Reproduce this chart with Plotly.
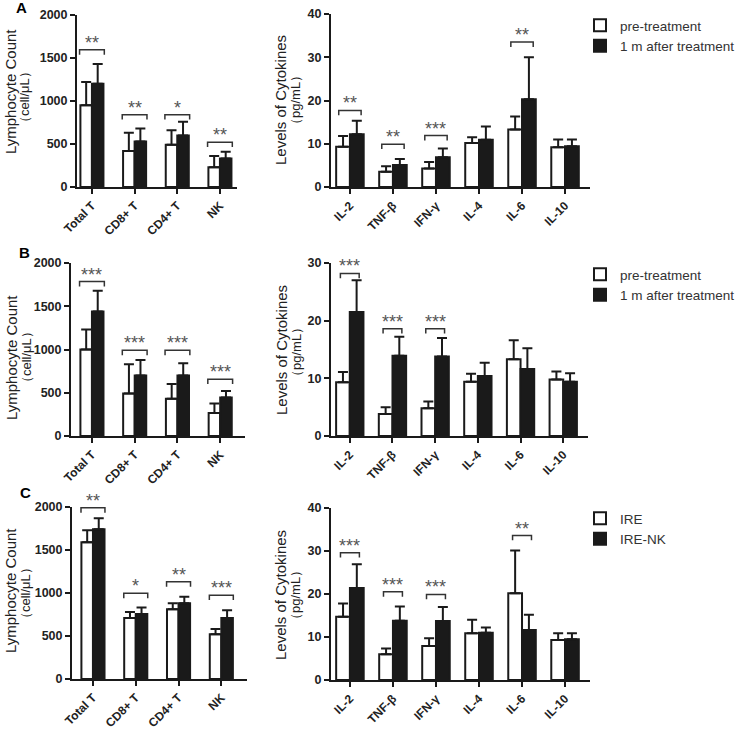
import plotly.graph_objects as go

W, H = 738, 729

# ---------------- data ----------------
lymph_cats = ["Total T", "CD8+ T", "CD4+ T", "NK"]
cyto_cats = ["IL-2", "TNF-β", "IFN-γ", "IL-4", "IL-6", "IL-10"]

# Row A
A_lymph_pre = [950, 420, 490, 230]
A_lymph_pre_sd = [270, 210, 170, 130]
A_lymph_post = [1200, 530, 600, 330]
A_lymph_post_sd = [230, 150, 160, 80]
A_lymph_sig = ["**", "**", "*", "**"]
A_lymph_brk = [1595, 840, 840, 520]

A_cyto_pre = [9.3, 3.5, 4.3, 10.2, 13.3, 9.2]
A_cyto_pre_sd = [2.5, 1.3, 1.5, 1.3, 3.0, 1.8]
A_cyto_post = [12.2, 5.1, 6.9, 10.9, 20.3, 9.4]
A_cyto_post_sd = [3.1, 1.4, 2.0, 3.1, 9.7, 1.6]
A_cyto_sig = ["**", "**", "***", "", "**", ""]
A_cyto_brk = [17.7, 9.9, 11.9, None, 33.5, None]

# Row B
B_lymph_pre = [1000, 490, 430, 265]
B_lymph_pre_sd = [230, 340, 170, 110]
B_lymph_post = [1440, 700, 700, 445]
B_lymph_post_sd = [240, 180, 140, 75]
B_lymph_sig = ["***", "***", "***", "***"]
B_lymph_brk = [1785, 990, 990, 656]

B_cyto_pre = [9.3, 3.8, 4.8, 9.4, 13.3, 9.8]
B_cyto_pre_sd = [1.8, 1.2, 1.2, 1.4, 3.3, 1.4]
B_cyto_post = [21.5, 13.9, 13.8, 10.4, 11.6, 9.4]
B_cyto_post_sd = [5.5, 3.3, 3.2, 2.3, 3.6, 1.5]
B_cyto_sig = ["***", "***", "***", "", "", ""]
B_cyto_brk = [28.2, 18.6, 18.6, None, None, None]

# Row C
C_lymph_pre = [1590, 710, 810, 520]
C_lymph_pre_sd = [140, 70, 70, 60]
C_lymph_post = [1740, 755, 880, 710]
C_lymph_post_sd = [130, 75, 75, 90]
C_lymph_sig = ["**", "*", "**", "***"]
C_lymph_brk = [1990, 996, 1130, 975]

C_cyto_pre = [14.7, 6.0, 7.9, 10.9, 20.2, 9.3]
C_cyto_pre_sd = [3.1, 1.3, 1.8, 3.1, 9.9, 1.6]
C_cyto_post = [21.4, 13.8, 13.7, 11.0, 11.6, 9.5]
C_cyto_post_sd = [5.5, 3.3, 3.3, 1.2, 3.6, 1.4]
C_cyto_sig = ["***", "***", "***", "", "**", ""]
C_cyto_brk = [29.6, 20.5, 19.9, None, 33.6, None]

group_names_AB = ["pre-treatment", "1 m after treatment"]
group_names_C = ["IRE", "IRE-NK"]

lymph_title = "Lymphocyte Count"
lymph_unit = "（cell/μL）"
cyto_title = "Levels of Cytokines"
cyto_unit = "（pg/mL）"

# ---------------- layout helpers ----------------
def fx(px):
    return px / W

def fy(py):
    return 1 - py / H

INK = "#1a1a1a"
FONT = "Liberation Sans, Arial, sans-serif"

panels = [
    dict(cats=lymph_cats, pre=A_lymph_pre, pre_sd=A_lymph_pre_sd, post=A_lymph_post,
         post_sd=A_lymph_post_sd, sig=A_lymph_sig, brk=A_lymph_brk, yr=[0, 2000], dt=500,
         xpx=(77, 237), ypx=(15, 187), xr=[-0.35, 3.40], names=group_names_AB, leg="legend",
         showleg=False, half=0.29, w=0.27, title=lymph_title, unit=lymph_unit,
         tpos=(10, 92), upos=(24, 97)),
    dict(cats=cyto_cats, pre=A_cyto_pre, pre_sd=A_cyto_pre_sd, post=A_cyto_post,
         post_sd=A_cyto_post_sd, sig=A_cyto_sig, brk=A_cyto_brk, yr=[0, 40], dt=10,
         xpx=(331, 590), ypx=(14, 187), xr=[-0.44, 5.58], names=group_names_AB, leg="legend",
         showleg=True, half=0.26, w=0.32, title=cyto_title, unit=cyto_unit,
         tpos=(280, 100), upos=(295, 100)),
    dict(cats=lymph_cats, pre=B_lymph_pre, pre_sd=B_lymph_pre_sd, post=B_lymph_post,
         post_sd=B_lymph_post_sd, sig=B_lymph_sig, brk=B_lymph_brk, yr=[0, 2000], dt=500,
         xpx=(71, 245), ypx=(263, 436), xr=[-0.49, 3.58], names=group_names_AB, leg="legend2",
         showleg=False, half=0.29, w=0.27, title=lymph_title, unit=lymph_unit,
         tpos=(11, 358), upos=(26, 357)),
    dict(cats=cyto_cats, pre=B_cyto_pre, pre_sd=B_cyto_pre_sd, post=B_cyto_post,
         post_sd=B_cyto_post_sd, sig=B_cyto_sig, brk=B_cyto_brk, yr=[0, 30], dt=10,
         xpx=(331, 588), ypx=(263, 436), xr=[-0.44, 5.58], names=group_names_AB, leg="legend2",
         showleg=True, half=0.22, w=0.32, title=cyto_title, unit=cyto_unit,
         tpos=(281, 350), upos=(296, 352)),
    dict(cats=lymph_cats, pre=C_lymph_pre, pre_sd=C_lymph_pre_sd, post=C_lymph_post,
         post_sd=C_lymph_post_sd, sig=C_lymph_sig, brk=C_lymph_brk, yr=[0, 2000], dt=500,
         xpx=(72, 247), ypx=(507, 679), xr=[-0.49, 3.60], names=group_names_C, leg="legend3",
         showleg=False, half=0.28, w=0.27, title=lymph_title, unit=lymph_unit,
         tpos=(10, 591), upos=(25, 593)),
    dict(cats=cyto_cats, pre=C_cyto_pre, pre_sd=C_cyto_pre_sd, post=C_cyto_post,
         post_sd=C_cyto_post_sd, sig=C_cyto_sig, brk=C_cyto_brk, yr=[0, 40], dt=10,
         xpx=(331, 590), ypx=(508, 680), xr=[-0.44, 5.58], names=group_names_C, leg="legend3",
         showleg=True, half=0.22, w=0.32, title=cyto_title, unit=cyto_unit,
         tpos=(280, 595), upos=(295, 595)),
]

fig = go.Figure()
shapes = []
annotations = []
layout = dict(
    template="none",
    width=W, height=H, margin=dict(l=0, r=0, t=0, b=0, pad=0, autoexpand=False),
    autosize=False,
    paper_bgcolor="white", plot_bgcolor="white",
    barmode="overlay", font=dict(family=FONT, color="#222"),
)

for i, p in enumerate(panels):
    n = i + 1
    xa = "x" if n == 1 else f"x{n}"
    ya = "y" if n == 1 else f"y{n}"
    xkey = "xaxis" if n == 1 else f"xaxis{n}"
    ykey = "yaxis" if n == 1 else f"yaxis{n}"
    w = p["w"]
    fig.add_trace(go.Bar(
        x=p["cats"], y=p["pre"], name=p["names"][0], xaxis=xa, yaxis=ya,
        offset=-w, width=w,
        marker=dict(color="white", line=dict(color=INK, width=2)),
        error_y=dict(type="data", array=p["pre_sd"], arrayminus=[0] * len(p["pre"]),
                     symmetric=False, color=INK, thickness=2, width=5),
        legend=p["leg"], showlegend=p["showleg"],
    ))
    fig.add_trace(go.Bar(
        x=p["cats"], y=p["post"], name=p["names"][1], xaxis=xa, yaxis=ya,
        offset=0, width=w,
        marker=dict(color=INK, line=dict(color=INK, width=2)),
        error_y=dict(type="data", array=p["post_sd"], arrayminus=[0] * len(p["post"]),
                     symmetric=False, color=INK, thickness=2, width=5),
        legend=p["leg"], showlegend=p["showleg"],
    ))
    layout[xkey] = dict(
        domain=[fx(p["xpx"][0]), fx(p["xpx"][1])], anchor=ya, range=p["xr"],
        type="category", categoryorder="array", categoryarray=p["cats"],
        showline=True, linewidth=2, linecolor=INK, ticks="outside", ticklen=5,
        tickwidth=2, tickcolor=INK, tickangle=-45, showgrid=False, zeroline=False,
        automargin=False, mirror=False,
        tickfont=dict(size=12, color="#222", weight="bold"), fixedrange=True,
    )
    layout[ykey] = dict(
        domain=[fy(p["ypx"][1]), fy(p["ypx"][0])], anchor=xa, range=p["yr"],
        dtick=p["dt"], tick0=0, showline=True, linewidth=2, linecolor=INK,
        ticks="outside", ticklen=5, tickwidth=2, tickcolor=INK, showgrid=False,
        zeroline=False, automargin=False, mirror=False,
        tickfont=dict(size=12.5, color="#222", weight="bold"),
        fixedrange=True,
    )
    # significance brackets
    for k, (s, b) in enumerate(zip(p["sig"], p["brk"])):
        if not s or b is None:
            continue
        h = p["half"]
        hook = (p["yr"][1] - p["yr"][0]) * 0.028
        shapes.append(dict(
            type="path", xref=xa, yref=ya,
            path=f"M {k - h} {b - hook} L {k - h} {b} L {k + h} {b} L {k + h} {b - hook}",
            line=dict(color="#333", width=1.5),
        ))
        annotations.append(dict(
            x=k, y=b, xref=xa, yref=ya, text=s, showarrow=False,
            yanchor="bottom", yshift=-5, font=dict(size=18, color="#555"),
        ))
    # axis titles
    annotations.append(dict(
        x=fx(p["tpos"][0]), y=fy(p["tpos"][1]), xref="paper", yref="paper",
        text=p["title"], textangle=-90, showarrow=False, xanchor="center", yanchor="middle",
        font=dict(size=15, color="#222"),
    ))
    annotations.append(dict(
        x=fx(p["upos"][0]), y=fy(p["upos"][1]), xref="paper", yref="paper",
        text=p["unit"], textangle=-90, showarrow=False, xanchor="center", yanchor="middle",
        font=dict(size=13, color="#222"),
    ))

letters = [("A", 21, 8), ("B", 24, 253), ("C", 26, 492)]
for t, x, y in letters:
    annotations.append(dict(
        x=fx(x), y=fy(y), xref="paper", yref="paper", text=f"<b>{t}</b>",
        showarrow=False, xanchor="center", yanchor="middle",
        font=dict(size=15, color="black"),
    ))

leg_common = dict(
    xanchor="left", yanchor="top", bgcolor="rgba(0,0,0,0)", borderwidth=0,
    font=dict(size=13.5, color="#333"), tracegroupgap=0, itemclick=False,
    itemdoubleclick=False,
)
layout["legend"] = dict(x=fx(580), y=fy(10), **leg_common)
layout["legend2"] = dict(x=fx(580), y=fy(259), **leg_common)
layout["legend3"] = dict(x=fx(580), y=fy(503), **leg_common)

layout["shapes"] = shapes
layout["annotations"] = annotations
fig.update_layout(**layout)

fig.write_html(
    "out.html",
    config={"displayModeBar": False, "staticPlot": True},
    post_script="document.body.style.margin='0px';document.body.style.padding='0px';"
                "document.body.style.overflow='hidden';",
)
